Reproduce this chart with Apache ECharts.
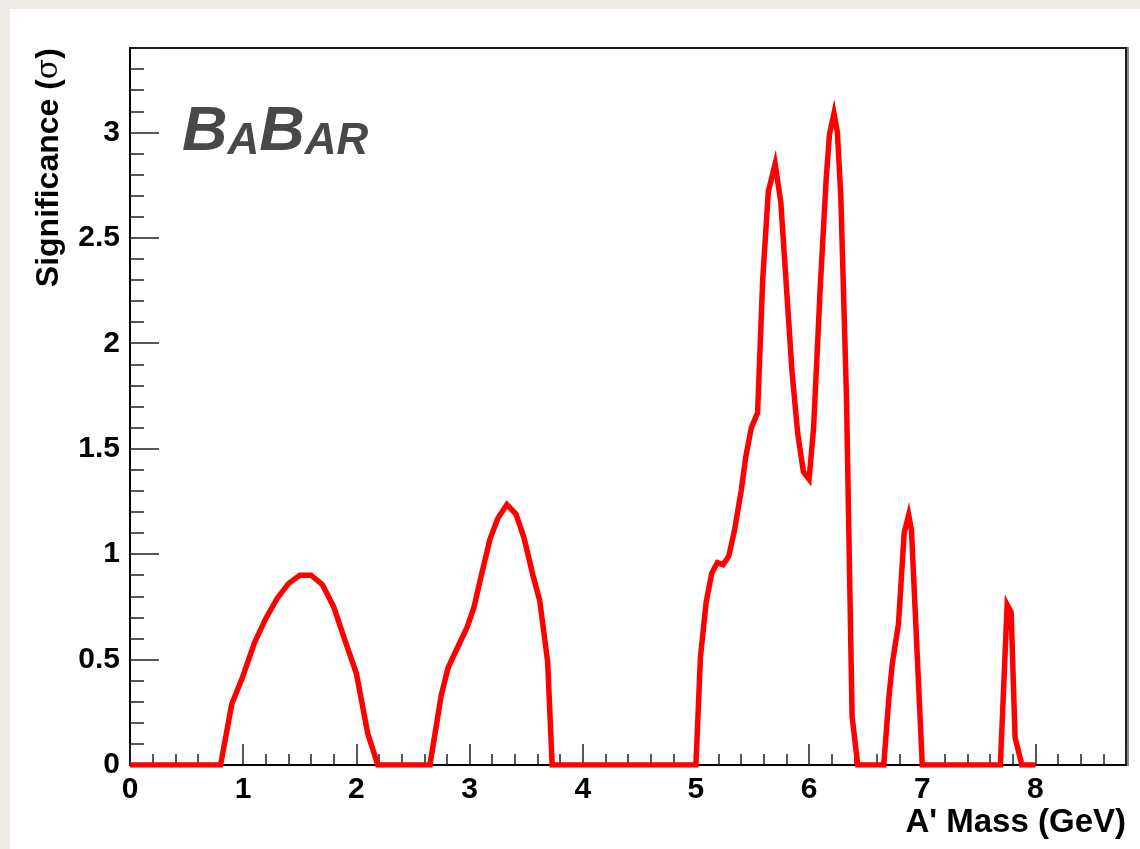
<!DOCTYPE html>
<html>
<head>
<meta charset="utf-8">
<script src="https://cdn.jsdelivr.net/npm/echarts@6/dist/echarts.min.js"></script>
<style>
  html, body { margin: 0; padding: 0; width: 1140px; height: 849px; overflow: hidden; background: #eeebe6; }
  #panel { position: absolute; left: 10px; top: 9px; right: 0; bottom: 0; background: #ffffff; }
  #chart { position: absolute; left: 0; top: 0; width: 1140px; height: 849px; }
</style>
</head>
<body>
<div id="panel"></div>
<div id="chart"></div>
<script>
// A' mass scan: local significance versus hypothesised mass
const massGeV = [
  0.00, 0.80, 0.90, 0.99, 1.10, 1.20, 1.30, 1.40, 1.50, 1.60, 1.70, 1.80, 1.90, 2.00, 2.10, 2.19,
  2.65, 2.75, 2.81, 2.87, 2.98, 3.04, 3.10, 3.18, 3.25, 3.33, 3.41, 3.48, 3.56, 3.62, 3.69, 3.73,
  5.00, 5.04, 5.09, 5.14, 5.19, 5.24, 5.29, 5.34, 5.40, 5.44, 5.49, 5.545, 5.59, 5.64, 5.70, 5.75,
  5.85, 5.90, 5.95, 6.00, 6.04, 6.10, 6.15, 6.18, 6.22, 6.25, 6.28, 6.33, 6.38, 6.43,
  6.66, 6.705, 6.735, 6.79, 6.84, 6.88, 6.905, 7.00,
  7.69, 7.75, 7.785, 7.82, 7.88, 8.00
];
const significance = [
  0.00, 0.00, 0.29, 0.41, 0.58, 0.695, 0.79, 0.86, 0.90, 0.90, 0.855, 0.75, 0.59, 0.435, 0.15, 0.00,
  0.00, 0.33, 0.46, 0.53, 0.655, 0.75, 0.89, 1.07, 1.17, 1.235, 1.19, 1.08, 0.90, 0.78, 0.49, 0.00,
  0.00, 0.51, 0.77, 0.91, 0.96, 0.95, 0.99, 1.11, 1.30, 1.46, 1.60, 1.67, 2.30, 2.72, 2.85, 2.67,
  1.86, 1.57, 1.39, 1.355, 1.60, 2.28, 2.77, 2.99, 3.09, 3.00, 2.70, 1.75, 0.23, 0.00,
  0.00, 0.32, 0.48, 0.67, 1.10, 1.185, 1.11, 0.00,
  0.00, 0.76, 0.725, 0.13, 0.00, 0.00
];

// Labelled tick values on each axis
const xTickLabels = [0, 1, 2, 3, 4, 5, 6, 7, 8];
const yTickLabels = [0, 0.5, 1, 1.5, 2, 2.5, 3];

const FONT = '"Liberation Sans", Arial, Helvetica, sans-serif';

const points = massGeV.map((m, i) => [m, significance[i]]);

const chart = echarts.init(document.getElementById('chart'), null, { renderer: 'canvas' });

const isLabelled = (list, v) => list.some(t => Math.abs(t - v) < 1e-9);

chart.setOption({
  animation: false,
  backgroundColor: 'transparent',
  grid: {
    left: 130, top: 48, right: 14, bottom: 84,
    show: true, borderColor: '#1a1a1a', borderWidth: 2, backgroundColor: 'transparent'
  },
  xAxis: {
    type: 'value', min: 0, max: 8.8, interval: 1,
    axisLine: { show: true, onZero: false, lineStyle: { color: '#000', width: 2 } },
    axisTick: { show: true, inside: true, length: 21, lineStyle: { color: '#222', width: 1.5 } },
    minorTick: { show: true, splitNumber: 5, length: 11, lineStyle: { color: '#222', width: 1.5 } },
    splitLine: { show: false },
    minorSplitLine: { show: false },
    axisLabel: {
      show: true, margin: 10, showMaxLabel: false,
      fontFamily: FONT, fontSize: 30, fontWeight: 'bold', color: '#000',
      formatter: v => isLabelled(xTickLabels, v) ? String(v) : ''
    }
  },
  yAxis: {
    type: 'value', min: 0, max: 3.4, interval: 0.5,
    axisLine: { show: true, onZero: false, lineStyle: { color: '#000', width: 2 } },
    axisTick: { show: true, inside: true, length: 29, lineStyle: { color: '#222', width: 1.5 } },
    minorTick: { show: true, splitNumber: 5, length: 14, lineStyle: { color: '#222', width: 1.5 } },
    splitLine: { show: false },
    minorSplitLine: { show: false },
    axisLabel: {
      show: true, margin: 10, showMaxLabel: false,
      fontFamily: FONT, fontSize: 30, fontWeight: 'bold', color: '#000',
      formatter: v => isLabelled(yTickLabels, v) ? String(v) : ''
    }
  },
  series: [{
    type: 'line',
    data: points,
    showSymbol: false,
    symbol: 'none',
    smooth: false,
    lineStyle: { color: '#ff0000', width: 5.5, join: 'miter', miterLimit: 10 },
    z: 5
  }],
  graphic: [
    // shaded right edge of the frame
    { type: 'rect', shape: { x: 1127, y: 47, width: 2, height: 719 }, style: { fill: '#8c8c8c' }, silent: true, z: 1 },
    // experiment logo
    {
      type: 'text', x: 182, y: 164, silent: true, z: 10,
      style: {
        text: '{b|B}{s|A}{b|B}{s|AR}',
        align: 'left', verticalAlign: 'bottom',
        rich: {
          b: { fontFamily: FONT, fontSize: 63, fontWeight: 'bold', fontStyle: 'italic', fill: '#484848', color: '#484848', lineHeight: 63, verticalAlign: 'bottom' },
          s: { fontFamily: FONT, fontSize: 44, fontWeight: 'bold', fontStyle: 'italic', fill: '#484848', color: '#484848', lineHeight: 66, verticalAlign: 'bottom' }
        }
      }
    },
    // x-axis title
    {
      type: 'text', x: 1126, y: 823, silent: true, z: 10,
      style: {
        text: "A' Mass (GeV)",
        font: 'bold 33px ' + FONT, fill: '#000',
        align: 'right', verticalAlign: 'middle'
      }
    },
    // y-axis title
    {
      type: 'text', x: 49, y: 48, rotation: Math.PI / 2, silent: true, z: 10,
      style: {
        text: '{b|Significance (}{g|σ}{b|)}',
        align: 'right', verticalAlign: 'middle',
        rich: {
          b: { fontFamily: FONT, fontSize: 32, fontWeight: 'bold', fill: '#000', color: '#000' },
          g: { fontFamily: '"DejaVu Serif", serif', fontSize: 30, fontWeight: 'normal', fill: '#000', color: '#000' }
        }
      }
    }
  ]
});
</script>
</body>
</html>
